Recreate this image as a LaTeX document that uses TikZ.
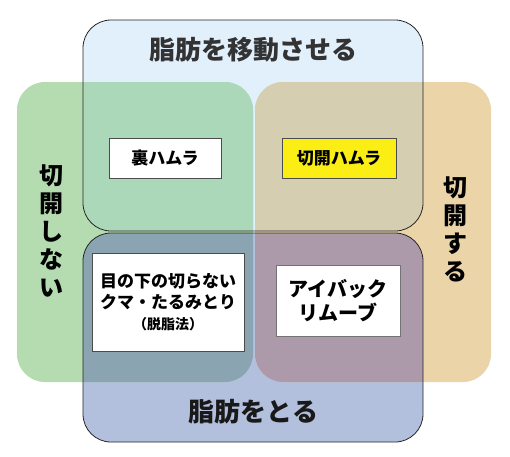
\documentclass[tikz,border=0pt]{standalone}
\usepackage{fontspec}
\setmainfont{Noto Sans CJK JP}
\usetikzlibrary{positioning}
\definecolor{zonegreen}{RGB}{181,220,176}
\definecolor{zoneorange}{RGB}{234,212,168}
\definecolor{zoneblue}{RGB}{226,240,252}
\definecolor{zonenavy}{RGB}{178,192,222}
\definecolor{movegreen}{RGB}{172,216,186}
\definecolor{moveorange}{RGB}{213,206,176}
\definecolor{takegreen}{RGB}{138,164,178}
\definecolor{takeorange}{RGB}{172,154,170}
\definecolor{hlyellow}{RGB}{250,238,20}

\begin{document}
\begin{tikzpicture}[x=1pt, y=-1pt,
    zone/.style={rectangle, rounded corners=28pt, inner sep=0pt, outer sep=0pt},
    rim/.style={rounded corners=28pt, draw=black!85, line width=0.8pt},
    item/.style={rectangle, draw=black!70, line width=0.8pt, inner sep=0pt, align=center, font=\bfseries},
    side/.style={align=center, font=\fontsize{24}{28}\selectfont\bfseries}]
        \useasboundingbox (0,0) rectangle (510,456);
        %zones
        \node[zone, fill=zoneblue, minimum width=340pt, minimum height=211pt] (move) at (253,125.5) {};
        \node[zone, fill=zonenavy, minimum width=340pt, minimum height=209pt] (take) at (253,337.5) {};
        \node[zone, fill=zonegreen, minimum width=236pt, minimum height=300pt] (nocut) at (135,232) {};
        \node[zone, fill=zoneorange, minimum width=236pt, minimum height=300pt] (cut) at (373,232) {};
        %overlaps
        \begin{scope}
          \clip[rounded corners=28pt] (move.north west) rectangle (move.south east);
          \fill[rounded corners=28pt, movegreen] (nocut.north west) rectangle (nocut.south east);
          \fill[rounded corners=28pt, moveorange] (cut.north west) rectangle (cut.south east);
        \end{scope}
        \begin{scope}
          \clip[rounded corners=28pt] (take.north west) rectangle (take.south east);
          \fill[rounded corners=28pt, takegreen] (nocut.north west) rectangle (nocut.south east);
          \fill[rounded corners=28pt, takeorange] (cut.north west) rectangle (cut.south east);
        \end{scope}
        \draw[rim] (move.north west) rectangle (move.south east);
        \draw[rim] (take.north west) rectangle (take.south east);
        %titles
        \node[font=\fontsize{26}{30}\selectfont\bfseries, text=black!80] (movet) at (253,50) {脂肪を移動させる};
        \node[font=\fontsize{26}{30}\selectfont\bfseries, text=black!90] (taket) at (253,412) {脂肪をとる};
        \node[side] (nocutt) at (51,231) {切\\開\\し\\な\\い};
        \node[side] (cutt) at (455,229) {切\\開\\す\\る};
        %methods
        \node[item, fill=white, minimum width=112pt, minimum height=40pt, font=\fontsize{17}{21}\selectfont\bfseries] (urahamra) at (165,158) {裏ハムラ};
        \node[item, fill=hlyellow, minimum width=114pt, minimum height=40pt, font=\fontsize{17}{21}\selectfont\bfseries] (sekkai) at (339,158) {切開ハムラ};
        \node[item, fill=white, minimum width=152pt, minimum height=98pt, font=\fontsize{17}{21}\selectfont\bfseries] (datsushi) at (168,302) {目の下の切らない\\クマ・たるみとり\\{\fontsize{14}{18}\selectfont（脱脂法）}};
        \node[item, fill=white, draw=black!55, minimum width=124pt, minimum height=71pt, font=\fontsize{20}{24}\selectfont\bfseries] (eyebag) at (338,300.5) {アイバック\\リムーブ};
      \end{tikzpicture}
\end{document}
